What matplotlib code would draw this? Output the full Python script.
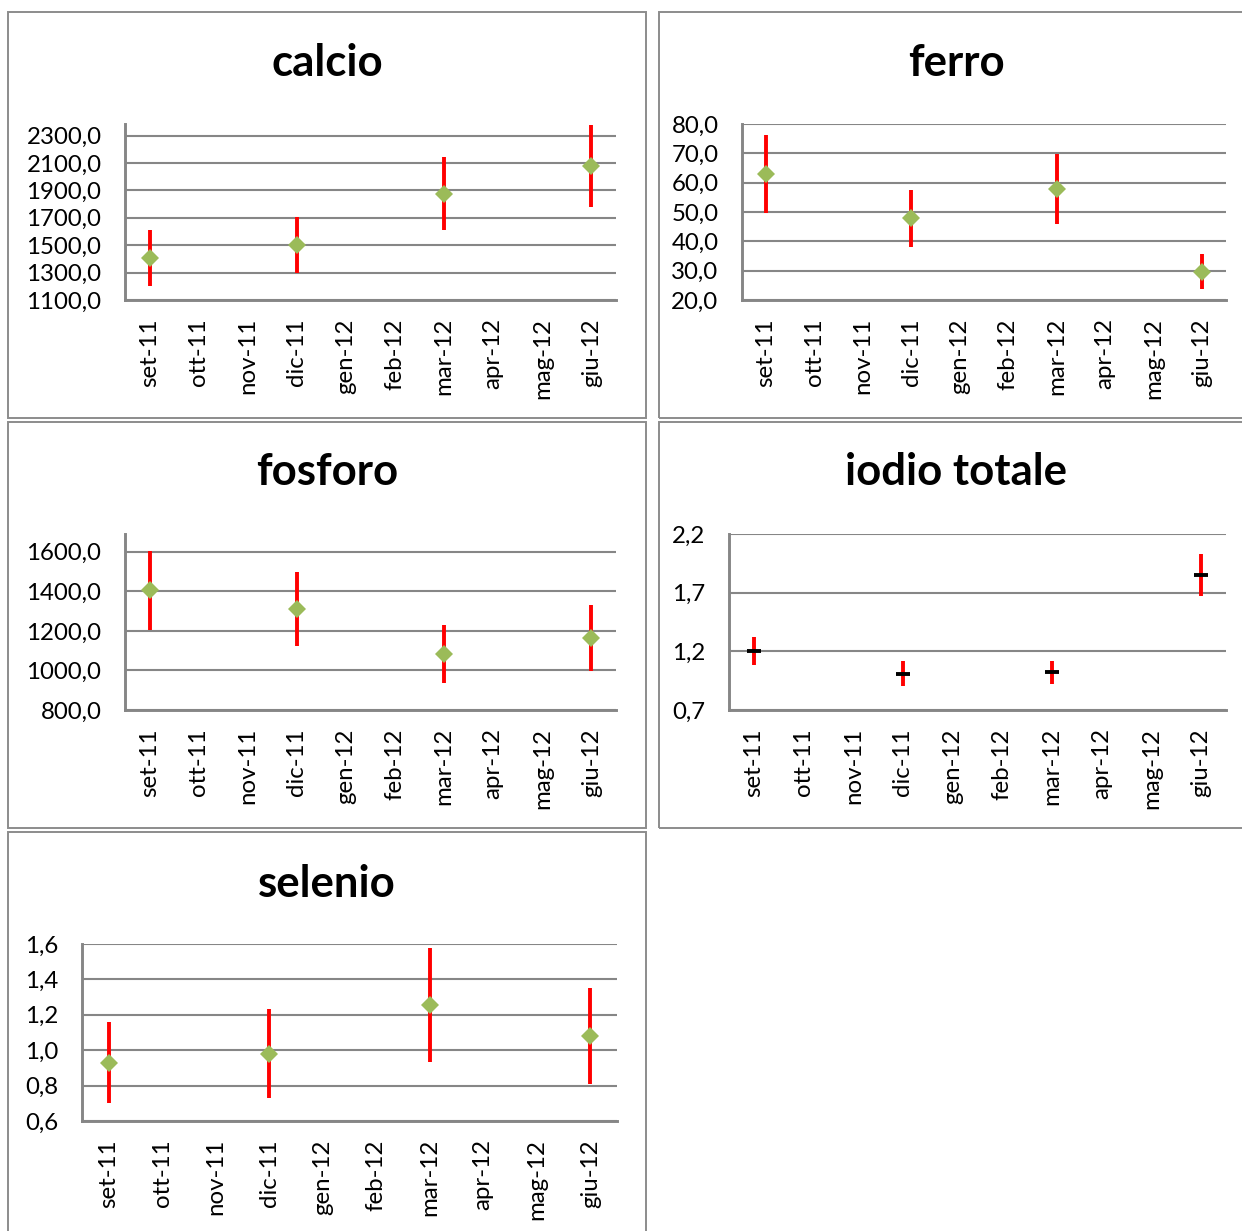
import matplotlib
matplotlib.use('Agg')
import matplotlib.pyplot as plt
from matplotlib.patches import Rectangle

plt.rcParams['font.family'] = ['Lato', 'DejaVu Sans']

# %% data
months = ['set-11', 'ott-11', 'nov-11', 'dic-11', 'gen-12',
          'feb-12', 'mar-12', 'apr-12', 'mag-12', 'giu-12']
sample_pos = [0, 3, 6, 9]   # months with a measurement

calcio_mean = [1405, 1500, 1876, 2079]
calcio_err = [205, 205, 265, 298]
calcio_ticks = [1100, 1300, 1500, 1700, 1900, 2100, 2300]

ferro_mean = [62.8, 47.8, 57.9, 29.7]
ferro_err = [13.3, 9.7, 11.9, 6.0]
ferro_ticks = [20, 30, 40, 50, 60, 70, 80]

fosforo_mean = [1405, 1311, 1083, 1164]
fosforo_err = [200, 187, 147, 167]
fosforo_ticks = [800, 1000, 1200, 1400, 1600]

iodio_mean = [1.20, 1.01, 1.02, 1.85]
iodio_err = [0.12, 0.105, 0.095, 0.18]
iodio_ticks = [0.7, 1.2, 1.7, 2.2]

selenio_mean = [0.93, 0.98, 1.255, 1.08]
selenio_err = [0.23, 0.25, 0.322, 0.27]
selenio_ticks = [0.6, 0.8, 1.0, 1.2, 1.4, 1.6]

# %% layout helpers (pixels of a 1242x1231 canvas)
W, H = 1242, 1231
GRID = '#868686'
BORDER = '#8c8c8c'

fig = plt.figure(figsize=(W / 100, H / 100), dpi=100)


def px_axes(left, top, right, bottom):
    return fig.add_axes([left / W, 1 - bottom / H, (right - left) / W, (bottom - top) / H])


def panel_box(left, top, right, bottom):
    r = Rectangle((left / W, 1 - bottom / H), (right - left) / W, (bottom - top) / H,
                  transform=fig.transFigure, fill=False, edgecolor=BORDER, linewidth=1.4)
    fig.add_artist(r)


def fmt_it(v):
    return f"{v:.1f}".replace('.', ',')


def make_panel(box, title, title_y, ax_box, mean, err, ticks, ytop, dash=False):
    panel_box(*box)
    cx = (box[0] + min(box[2], 1253)) / 2
    fig.text(cx / W, 1 - title_y / H, title, ha='center', va='center',
             fontsize=31.5, fontweight='bold')

    ax = px_axes(*ax_box)
    ax.errorbar(sample_pos, mean, yerr=err, fmt='none', ecolor='#ff0000',
                elinewidth=2.8, capsize=0, zorder=3)
    if dash:
        ax.plot(sample_pos, mean, linestyle='none', marker='_', markersize=10,
                markeredgewidth=2.8, color='black', zorder=4)
    else:
        ax.plot(sample_pos, mean, linestyle='none', marker='D', markersize=8.8,
                markeredgewidth=0, color='#9bbb59', zorder=4)

    ax.set_xlim(-0.5, 9.5)
    ax.set_ylim(ticks[0], ytop)
    ax.set_yticks(ticks)
    ax.set_yticklabels([fmt_it(t) for t in ticks])
    ax.set_xticks(range(len(months)))
    ax.set_xticklabels(months, rotation=90, va='top', ha='center')
    ax.tick_params(axis='both', length=0, labelsize=17.3)
    ax.tick_params(axis='x', pad=13)
    ax.tick_params(axis='y', pad=17)

    for s in ['top', 'right']:
        ax.spines[s].set_visible(False)
    for s in ['left', 'bottom']:
        ax.spines[s].set_color(GRID)
        ax.spines[s].set_linewidth(2.1)
    ax.yaxis.grid(True, color=GRID, linewidth=1.5)
    ax.set_axisbelow(True)
    ax.patch.set_alpha(0)
    return ax


# %% the five panels
make_panel((8, 12, 646, 418), 'calcio', 63, (125, 124, 616, 300),
           calcio_mean, calcio_err, calcio_ticks, 2385)
make_panel((659, 12, 1260, 418), 'ferro', 63, (742, 124, 1226, 300),
           ferro_mean, ferro_err, ferro_ticks, 80)
make_panel((8, 422, 646, 828), 'fosforo', 472, (125, 534, 616, 710),
           fosforo_mean, fosforo_err, fosforo_ticks, 1690)
make_panel((659, 422, 1260, 828), 'iodio totale', 472, (729, 534, 1226, 710),
           iodio_mean, iodio_err, iodio_ticks, 2.2, dash=True)
make_panel((8, 832, 646, 1245), 'selenio', 884, (82, 944, 617, 1121),
           selenio_mean, selenio_err, selenio_ticks, 1.6)

fig.savefig('out.png', dpi=100)
